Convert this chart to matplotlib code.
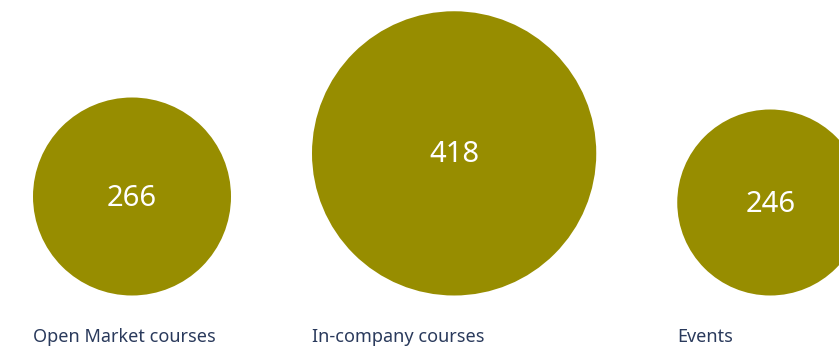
import matplotlib
matplotlib.use('Agg')
import numpy as np
import matplotlib.pyplot as plt
from matplotlib.patches import Circle

categories = ['Open Market courses', 'In-company courses', 'Events']
values = [266, 418, 246]

fill = '#978d00'
text_col = '#2a3a5c'
W, H = 839, 348

# radius grows with value**0.8 (matches the reference sizes)
radii = 99.0 * (np.array(values) / 266.0) ** 0.8
gap = 81
base = 295.5
left0 = 33

fig = plt.figure(figsize=(W / 100, H / 100), dpi=100)
ax = fig.add_axes([0, 0, 1, 1])
ax.set_xlim(0, W)
ax.set_ylim(H, 0)
ax.set_aspect('equal')
ax.axis('off')

left = left0
for cat, v, r in zip(categories, values, radii):
    cx = left + r
    cy = base - r
    ax.add_patch(Circle((cx, cy), r, color=fill, lw=0))
    ax.text(cx, cy + 1.5, str(v), ha='center', va='center', color='white',
            fontsize=21, family='Noto Sans')
    ax.text(left, 336.5, cat, ha='left', va='center', color=text_col,
            fontsize=13, family='Noto Sans')
    left = cx + r + gap

fig.savefig('out.png', dpi=100)
